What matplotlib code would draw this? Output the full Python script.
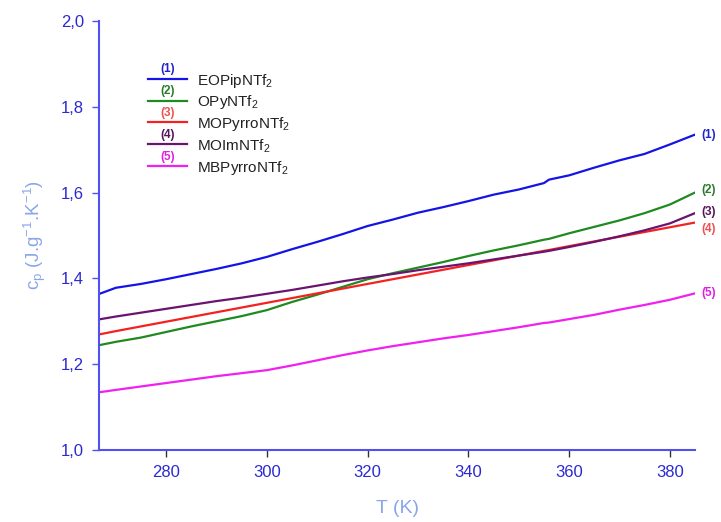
import matplotlib
matplotlib.use('Agg')
import matplotlib.pyplot as plt

plt.rcParams['font.family'] = ['Liberation Sans', 'DejaVu Sans']
plt.rcParams['mathtext.fontset'] = 'custom'
plt.rcParams['mathtext.rm'] = 'Liberation Sans'
plt.rcParams['mathtext.it'] = 'Liberation Sans'

# temperature grid (K)
T = [267, 270, 275, 280, 285, 290, 295, 300, 305, 310, 315, 320, 325, 330,
     335, 340, 345, 350, 355, 356, 360, 365, 370, 375, 380, 385]

# heat capacities (J g-1 K-1)
cp_eopip = [1.365, 1.378, 1.387, 1.398, 1.410, 1.422, 1.435, 1.450, 1.468, 1.485,
            1.503, 1.522, 1.537, 1.553, 1.566, 1.580, 1.595, 1.607, 1.622, 1.630,
            1.640, 1.658, 1.675, 1.690, 1.712, 1.735]
cp_opy = [1.245, 1.252, 1.262, 1.275, 1.288, 1.300, 1.312, 1.326, 1.345, 1.362,
          1.380, 1.398, 1.412, 1.425, 1.438, 1.452, 1.465, 1.477, 1.490, 1.492,
          1.505, 1.520, 1.535, 1.552, 1.572, 1.600]
cp_mopyrro = [1.270, 1.277, 1.288, 1.299, 1.310, 1.321, 1.332, 1.343, 1.354, 1.365,
              1.376, 1.387, 1.398, 1.409, 1.420, 1.431, 1.442, 1.453, 1.464, 1.466,
              1.475, 1.486, 1.497, 1.508, 1.519, 1.530]
cp_moim = [1.305, 1.311, 1.320, 1.329, 1.338, 1.347, 1.355, 1.364, 1.373, 1.383,
           1.393, 1.402, 1.410, 1.419, 1.427, 1.435, 1.444, 1.453, 1.462, 1.464,
           1.473, 1.485, 1.498, 1.512, 1.528, 1.552]
cp_mbpyrro = [1.135, 1.140, 1.148, 1.156, 1.164, 1.172, 1.179, 1.186, 1.197, 1.209,
              1.221, 1.232, 1.242, 1.251, 1.260, 1.268, 1.277, 1.286, 1.296, 1.297,
              1.305, 1.315, 1.327, 1.338, 1.350, 1.365]

series = [cp_eopip, cp_opy, cp_mopyrro, cp_moim, cp_mbpyrro]
names = ['EOPipNTf$_2$', 'OPyNTf$_2$', 'MOPyrroNTf$_2$', 'MOImNTf$_2$', 'MBPyrroNTf$_2$']
legend_nums = ['(1)', '(2)', '(3)', '(4)', '(5)']
end_nums = ['(1)', '(2)', '(4)', '(3)', '(5)']
end_dy = [0, 2, -5, 1, 0]  # small vertical nudges (points) so labels don't collide
line_colors = ['#1414e6', '#1f8a1f', '#f52020', '#6a1470', '#f020f0']
num_colors = ['#2323c8', '#2a7a2a', '#ee5050', '#55145a', '#e020e0']

fig = plt.figure(figsize=(7.21, 5.22), dpi=100)
ax = fig.add_axes([0.1377, 0.138, 0.8263, 0.822])

for ys, c in zip(series, line_colors):
    ax.plot(T, ys, color=c, lw=1.6)

# labels at the right end of each curve
for ys, lab, nc, dyo in zip(series, end_nums, num_colors, end_dy):
    ax.annotate(lab, xy=(T[-1], ys[-1]), xytext=(4.5, dyo), textcoords='offset points',
                color=nc, fontsize=8.5, fontweight='bold', va='center',
                annotation_clip=False)

# hand-made legend with numbers above the line samples
y0, dy = 0.865, 0.0508
for i, (nm, num, lc, nc) in enumerate(zip(names, legend_nums, line_colors, num_colors)):
    yy = y0 - i * dy
    ax.plot([0.0818, 0.147], [yy, yy], color=lc, lw=1.6, transform=ax.transAxes,
            clip_on=False)
    ax.text(0.114, yy + 0.008, num, color=nc, fontsize=8.5, fontweight='bold',
            ha='center', va='bottom', transform=ax.transAxes)
    ax.text(0.164, yy - 0.004, nm, color='#222222', fontsize=11, ha='left',
            va='center', transform=ax.transAxes)

ax.set_xlim(266.7, 385)
ax.set_ylim(1.0, 2.0)
ax.set_xticks([280, 300, 320, 340, 360, 380])
ax.set_yticks([1.0, 1.2, 1.4, 1.6, 1.8, 2.0])
ax.set_yticklabels(['1,0', '1,2', '1,4', '1,6', '1,8', '2,0'])

spine_c = '#5050f5'
for s in ['top', 'right']:
    ax.spines[s].set_visible(False)
for s in ['left', 'bottom']:
    ax.spines[s].set_color(spine_c)
    ax.spines[s].set_linewidth(1.5)
ax.tick_params(axis='both', labelcolor='#2a2ad0', labelsize=12,
               length=5, width=1, direction='out', pad=6)
ax.tick_params(axis='y', colors=spine_c, labelcolor='#2a2ad0')
ax.tick_params(axis='x', colors='#333333', labelcolor='#2a2ad0')

ax.set_xlabel('T (K)', color='#8aa6ea', fontsize=14, labelpad=14)
ax.set_ylabel('c$_\\mathrm{p}$ (J.g$^{-1}$.K$^{-1}$)', color='#8aa6ea', fontsize=13.5,
              labelpad=9)

fig.savefig('out.png', dpi=100)
